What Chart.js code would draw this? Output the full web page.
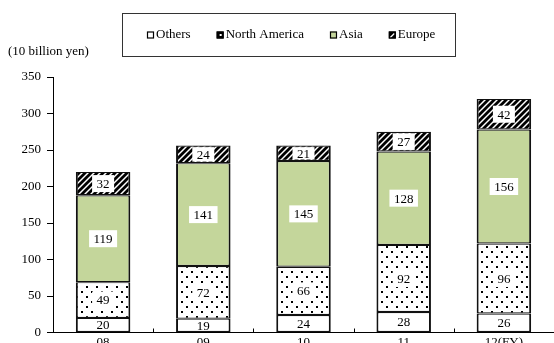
<!DOCTYPE html>
<html>
<head>
<meta charset="utf-8">
<script src="https://cdn.jsdelivr.net/npm/chart.js@4.4.1/dist/chart.umd.min.js"></script>
<style>
  html, body { margin: 0; padding: 0; background: #fff; overflow: hidden; }
  #wrap { width: 554px; height: 343px; overflow: hidden; }
</style>
</head>
<body>
<div id="wrap"><canvas id="salesChart" width="554" height="352"></canvas></div>
<script>
const years = ['08', '09', '10', '11', '12(FY)'];
const others = [20, 19, 24, 28, 26];
const northAmerica = [49, 72, 66, 92, 96];
const asia = [119, 141, 145, 128, 156];
const europe = [32, 24, 21, 27, 42];
const yMax = 350;
const yStep = 50;
const unitLabel = '(10 billion yen)';

const SERIF = '"Liberation Serif", "Times New Roman", serif';

function makeDots() {
    const c = document.createElement('canvas');
    c.width = 10; c.height = 10;
    const g = c.getContext('2d');
    g.fillStyle = '#fff'; g.fillRect(0, 0, 10, 10);
    g.fillStyle = '#000';
    g.fillRect(1, 1, 2, 2);
    g.fillRect(6, 6, 2, 2);
    return g.createPattern(c, 'repeat');
}

function makeHatch() {
    const s = 6;
    const c = document.createElement('canvas');
    c.width = s; c.height = s;
    const g = c.getContext('2d');
    g.fillStyle = '#fff'; g.fillRect(0, 0, s, s);
    g.strokeStyle = '#000'; g.lineWidth = 2.8;
    g.beginPath();
    g.moveTo(0, s); g.lineTo(s, 0);
    g.moveTo(-s / 2, s / 2); g.lineTo(s / 2, -s / 2);
    g.moveTo(s / 2, s * 1.5); g.lineTo(s * 1.5, s / 2);
    g.stroke();
    return g.createPattern(c, 'repeat');
}

const ctx = document.getElementById('salesChart').getContext('2d');
const dotFill = makeDots();
const hatchFill = makeHatch();

const barBorder = { top: 1.2, bottom: 1.2, left: 2, right: 2 };

function series(label, data, fill) {
    return {
        label, data,
        backgroundColor: fill,
        borderColor: '#111',
        borderWidth: barBorder,
        borderSkipped: false,
        barPercentage: 0.544,
        categoryPercentage: 1.0
    };
}

// value boxes centred in each stacked segment
const valueLabels = {
    id: 'valueLabels',
    afterDatasetsDraw(chart) {
        const c = chart.ctx;
        c.save();
        c.font = '13px ' + SERIF;
        c.textAlign = 'center';
        c.textBaseline = 'middle';
        chart.data.datasets.forEach((ds, d) => {
            chart.getDatasetMeta(d).data.forEach((bar, i) => {
                const v = String(ds.data[i]);
                const cy = (bar.y + bar.base) / 2;
                const tw = c.measureText(v).width;
                const segH = Math.abs(bar.base - bar.y);
                const bh = Math.min(17, segH - 3);
                const bw = tw + 9;
                if (d > 0) {
                    c.fillStyle = '#fff';
                    c.fillRect(bar.x - bw / 2, cy - bh / 2, bw, bh);
                }
                c.fillStyle = '#000';
                c.fillText(v, bar.x, cy + 1);
            });
        });
        c.restore();
    }
};

// category separators on the x axis, unit caption and boxed legend
const decorations = {
    id: 'decorations',
    afterDraw(chart) {
        const c = chart.ctx;
        const xs = chart.scales.x;
        const bottom = chart.chartArea.bottom;
        c.save();
        c.strokeStyle = '#000';
        c.lineWidth = 1;
        c.beginPath();
        for (let i = 0; i < years.length - 1; i++) {
            const x = Math.round((xs.getPixelForValue(i) + xs.getPixelForValue(i + 1)) / 2) + 0.5;
            c.moveTo(x, bottom);
            c.lineTo(x, bottom - 4);
        }
        c.stroke();

        c.font = '13px ' + SERIF;
        c.fillStyle = '#000';
        c.textAlign = 'left';
        c.textBaseline = 'middle';
        c.fillText(unitLabel, 8, 52);

        // legend frame
        c.strokeStyle = '#333';
        c.strokeRect(122.5, 13.5, 333, 43);

        const items = chart.data.datasets.map(ds => ({ label: ds.label, fill: ds.backgroundColor }));
        const gap = 26, mark = 7;
        let total = 0;
        items.forEach((it, k) => {
            it.w = c.measureText(it.label).width;
            total += mark + 2 + it.w + (k ? gap : 0);
        });
        let x = Math.round(291.5 - total / 2);
        const my = 35;
        items.forEach(it => {
            c.fillStyle = it.label === 'North America' || it.label === 'Europe' ? '#000' : it.fill;
            c.fillRect(x, my - 3.5, mark, mark);
            if (it.label === 'North America') {
                c.fillStyle = '#fff';
                c.fillRect(x + 3, my - 1, 2, 2);
            } else if (it.label === 'Europe') {
                c.strokeStyle = '#fff';
                c.lineWidth = 1.2;
                c.beginPath();
                c.moveTo(x + 1.5, my + 2.5);
                c.lineTo(x + 5.5, my - 1.5);
                c.stroke();
            }
            c.strokeStyle = '#000';
            c.lineWidth = 1.2;
            c.strokeRect(x + 0.5, my - 3, mark - 1, mark - 1);
            c.fillStyle = '#000';
            c.fillText(it.label, x + mark + 2, my);
            x += mark + 2 + it.w + gap;
        });
        c.restore();
    }
};

new Chart(ctx, {
    type: 'bar',
    data: {
        labels: years,
        datasets: [
            series('Others', others, '#fff'),
            series('North America', northAmerica, dotFill),
            series('Asia', asia, '#c4d69b'),
            series('Europe', europe, hatchFill)
        ]
    },
    options: {
        responsive: false,
        animation: false,
        layout: { padding: { top: 77, left: 0, right: 0, bottom: 0 } },
        plugins: { legend: { display: false }, tooltip: { enabled: false } },
        scales: {
            x: {
                stacked: true,
                grid: { display: false },
                border: { display: true, color: '#000', width: 1 },
                ticks: { color: '#000', font: { family: SERIF, size: 13 }, padding: -6 },
                afterFit(scale) { scale.height = 19.5; }
            },
            y: {
                stacked: true,
                min: 0, max: yMax,
                grid: { drawOnChartArea: false, drawTicks: true, tickLength: 6, color: '#000' },
                border: { display: true, color: '#000', width: 1 },
                ticks: { stepSize: yStep, color: '#000', font: { family: SERIF, size: 13 }, padding: 6 },
                afterFit(scale) { scale.width = 53; }
            }
        }
    },
    plugins: [valueLabels, decorations]
});
</script>
</body>
</html>
